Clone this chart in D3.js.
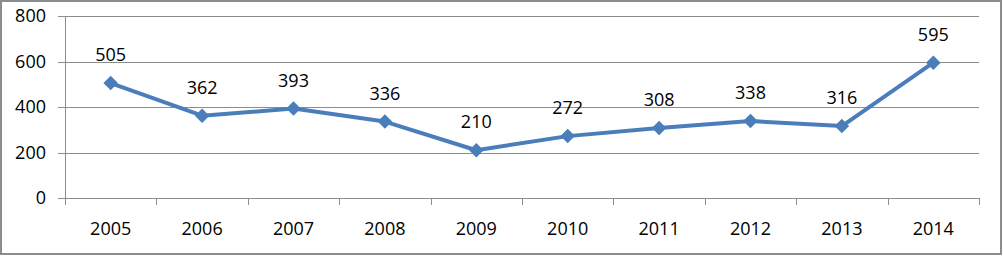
<!DOCTYPE html>
<html>
<head>
<meta charset="utf-8">
<script src="https://cdn.jsdelivr.net/npm/d3@7"></script>
<style>
  body { margin: 0; background: #fff; }
  svg { display: block; font-family: "Open Sans", sans-serif; }
</style>
</head>
<body>
<div id="chart"></div>
<script>
// chart values
const years = ["2005", "2006", "2007", "2008", "2009", "2010", "2011", "2012", "2013", "2014"];
const counts = [505, 362, 393, 336, 210, 272, 308, 338, 316, 595];
const yTicks = [0, 200, 400, 600, 800];

const width = 1003,
    height = 256,
    margin = ({top: 16, right: 24, bottom: 58, left: 65});

const data = years.map((y, i) => ({year: y, num: counts[i]}));

const svg = d3.select("#chart")
    .append("svg")
    .attr("width", width)
    .attr("height", height);

// outer frame
svg.append("rect")
    .attr("x", 1).attr("y", 1)
    .attr("width", width - 3).attr("height", height - 3)
    .attr("fill", "none")
    .attr("stroke", "#8c8c8c")
    .attr("stroke-width", 2);

const x = d3.scaleBand()
    .domain(years)
    .range([margin.left, width - margin.right]);

const y = d3.scaleLinear()
    .domain([0, 800])
    .range([height - margin.bottom, margin.top]);

// gridlines + y labels
svg.append("g")
    .selectAll("line")
    .data(yTicks.filter(d => d > 0))
    .join("line")
    .attr("x1", margin.left - 7)
    .attr("x2", width - margin.right)
    .attr("y1", d => Math.round(y(d)) + 0.5)
    .attr("y2", d => Math.round(y(d)) + 0.5)
    .attr("stroke", "#8c8c8c")
    .attr("stroke-width", 1);

svg.append("g")
    .selectAll("text")
    .data(yTicks)
    .join("text")
    .attr("x", margin.left - 19)
    .attr("y", d => y(d))
    .attr("dy", "0.35em")
    .attr("text-anchor", "end")
    .attr("font-size", 18)
    .attr("fill", "#000")
    .text(d => d);

// x axis
const xAxis = g => g
    .attr("transform", `translate(0, ${y(0)})`)
    .call(d3.axisBottom(x).tickSize(0).tickPadding(24))
    .call(g => g.select(".domain").attr("stroke", "#8c8c8c").attr("d", `M${margin.left - 7},0.5H${width - margin.right}`))
    .call(g => g.selectAll("text").attr("font-size", 18).attr("font-family", "Open Sans, sans-serif").attr("fill", "#000"));

svg.append("g").call(xAxis);

// band boundary ticks
svg.append("g")
    .selectAll("line")
    .data(years.map(d => x(d)).concat([x(years[years.length - 1]) + x.bandwidth()]))
    .join("line")
    .attr("x1", d => Math.round(d) + 0.5)
    .attr("x2", d => Math.round(d) + 0.5)
    .attr("y1", y(0))
    .attr("y2", y(0) + 7)
    .attr("stroke", "#8c8c8c");

// y axis line
svg.append("line")
    .attr("x1", margin.left + 0.5).attr("x2", margin.left + 0.5)
    .attr("y1", y(800)).attr("y2", y(0))
    .attr("stroke", "#8c8c8c");

const cx = d => x(d.year) + x.bandwidth() / 2;

const line = d3.line()
    .x(cx)
    .y(d => y(d.num));

svg.append("path")
    .datum(data)
    .attr("fill", "none")
    .attr("stroke", "#4a7ebb")
    .attr("stroke-width", 4)
    .attr("stroke-linejoin", "round")
    .attr("d", line);

svg.append("g")
    .selectAll("path")
    .data(data)
    .join("path")
    .attr("d", d3.symbol(d3.symbolSquare, 105))
    .attr("transform", d => `translate(${cx(d)}, ${y(d.num)}) rotate(45)`)
    .attr("fill", "#4a7ebb");

// value labels
svg.append("g")
    .selectAll("text")
    .data(data)
    .join("text")
    .attr("x", cx)
    .attr("y", d => y(d.num) - 22)
    .attr("text-anchor", "middle")
    .attr("font-size", 18)
    .attr("fill", "#000")
    .text(d => d.num);
</script>
</body>
</html>
